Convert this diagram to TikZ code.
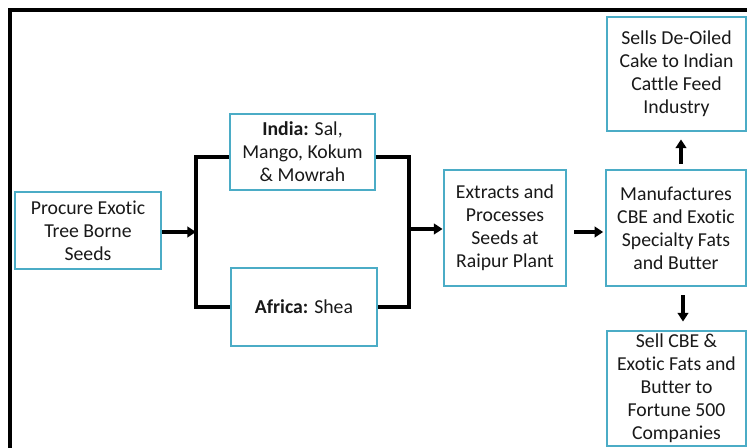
\documentclass[tikz,border=0pt]{standalone}
\usepackage{fontspec}
\setmainfont[Ligatures={NoCommon}]{Carlito}
\usetikzlibrary{arrows.meta}
\definecolor{tealbox}{RGB}{75,172,198}
\tikzset{
  box/.style={draw=tealbox, line width=2.2pt, fill=white, align=center, inner sep=0pt,
    font=\fontsize{14.8}{17.25}\selectfont, text=black!90},
  conn/.style={line width=2.8pt, draw=black},
  arr/.style={conn, -{Triangle[length=6.5pt,width=8pt]}},
}
\begin{document}
\begin{tikzpicture}[x=0.75pt,y=-0.75pt]
\useasboundingbox (0,0) rectangle (747,448);
\fill[white] (0,0) rectangle (747,448);
% outer frame
\draw[line width=2.3pt] (10,450) -- (10,10) -- (750,10);
% nodes
\node[box, minimum width=109.5pt, minimum height=57.75pt] (procure) at (88,230.5) {Procure Exotic\\Tree Borne\\Seeds};
\node[box, minimum width=108.75pt, minimum height=57pt] (india) at (302.5,152) {\textbf{India:} Sal,\\Mango, Kokum\\\& Mowrah};
\node[box, minimum width=109.5pt, minimum height=58.5pt] (africa) at (304,307) {\textbf{Africa:} Shea};
\node[box, minimum width=91.5pt, minimum height=87pt] (extracts) at (505,228) {Extracts and\\Processes\\Seeds at\\Raipur Plant};
\node[box, minimum width=105pt, minimum height=87pt] (manuf) at (676,228) {Manufactures\\CBE and Exotic\\Specialty Fats\\and Butter};
\node[box, minimum width=104.25pt, minimum height=85.5pt] (deoiled) at (676.5,74) {Sells De-Oiled\\Cake to Indian\\Cattle Feed\\Industry};
\node[box, minimum width=104.25pt, minimum height=86.25pt] (sellcbe) at (676.5,388.5) {Sell CBE \&\\Exotic Fats and\\Butter to\\Fortune 500\\Companies};
% junction coordinates
\coordinate (lt) at (196,157);
\coordinate (lb) at (196,307);
\coordinate (lm) at (196,232);
\coordinate (rt) at (409,157);
\coordinate (rb) at (409,307);
\coordinate (rm) at (409,229);
% connectors
\draw[arr] (procure.east |- lm) -- (lm);
\draw[conn, line join=miter] ([yshift=-3.75pt]india.west) -- (lt) -- (lb) -- (africa.west);
\draw[conn, line join=miter] ([yshift=-3.75pt]india.east) -- (rt) -- (rb) -- (africa.east);
\draw[arr] (rm) -- (extracts.west |- rm);
\draw[arr, shorten <=5.25pt, shorten >=1pt] ([yshift=-3pt]extracts.east) -- ([yshift=-3pt]manuf.west);
\draw[arr, shorten <=3.75pt, shorten >=5.25pt] ([xshift=3.75pt]manuf.north) -- ([xshift=3.75pt]manuf.north |- deoiled.south);
\draw[arr, shorten <=6pt, shorten >=6pt] ([xshift=5.25pt]manuf.south) -- ([xshift=5.25pt]manuf.south |- sellcbe.north);
\end{tikzpicture}
\end{document}
